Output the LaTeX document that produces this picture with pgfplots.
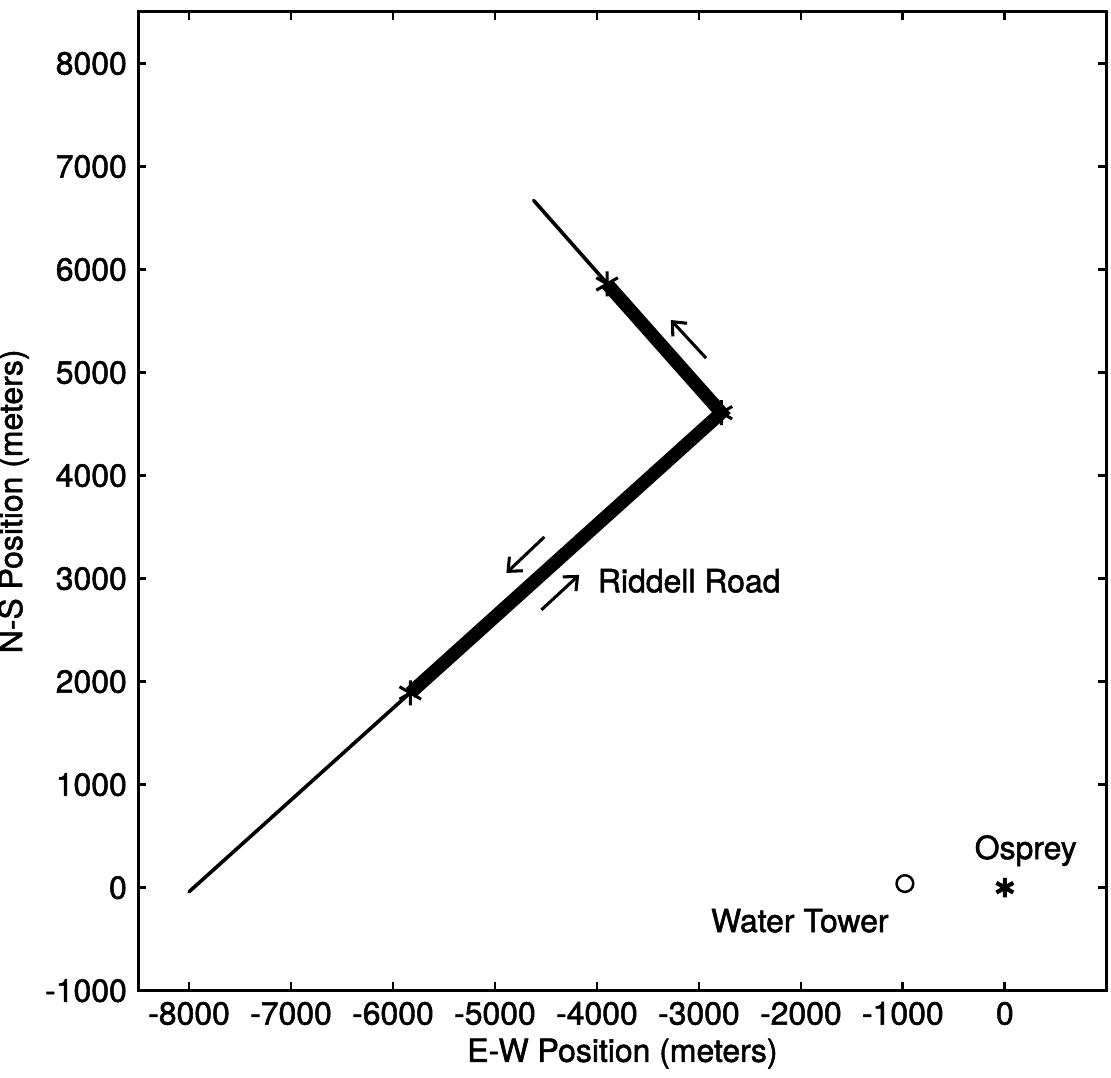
\documentclass[border=0pt]{standalone}
\usepackage{pgfplots}
\pgfplotsset{compat=1.18}
\usetikzlibrary{arrows.meta}
\usepackage{fontspec}
\setmainfont{TeX Gyre Heros}[FakeBold=1.6]
\begin{document}
\fontsize{11.5}{13.5}\selectfont
\begin{tikzpicture}
\path[use as bounding box] (-49.7pt,-31.3pt) rectangle (350.3pt,356.7pt);
\begin{axis}[
  at={(0,0)}, anchor=south west,
  scale only axis, width=348.8pt, height=352.4pt,
  xmin=-8500, xmax=1000, ymin=-1000, ymax=8500,
  xtick={-8000,-7000,...,0}, ytick={-1000,0,...,8000},
  scaled ticks=false,
  /pgf/number format/.cd, 1000 sep={}, assume math mode=true,
  /pgfplots/.cd,
  tick align=inside, major tick length=3pt,
  axis line style={line width=1.1pt}, tick style={line width=1pt, black},
  xlabel={E-W Position (meters)}, ylabel={N-S Position (meters)},
  xlabel style={yshift=3pt}, ylabel style={yshift=-2pt},
  clip=false,
]
\addplot[black, line width=1.3pt, line cap=round] coordinates {(-8000,-40) (-2780,4610) (-4620,6670)};
\addplot[black, line width=4.8pt, mark=asterisk, mark size=4.5pt, mark options={line width=1.1pt}] coordinates {(-5830,1890) (-2780,4610) (-3900,5860)};
\addplot[black, line width=1.1pt, -{Straight Barb[length=4pt,width=7pt]}] coordinates {(-2930,5140) (-3275,5510)};
\addplot[black, line width=1.1pt, -{Straight Barb[length=4pt,width=7pt]}] coordinates {(-4516,3404) (-4888,3055)};
\addplot[black, line width=1.1pt, -{Straight Barb[length=4pt,width=7pt]}] coordinates {(-4545,2696) (-4174,3036)};
\addplot[only marks, mark=o, mark size=3pt, black, line width=0.9pt] coordinates {(-980,40)};
\addplot[only marks, mark=asterisk, mark size=3.5pt, black, line width=1.5pt] coordinates {(0,0)};
\node[anchor=west] at (axis cs:-4100,2978) {Riddell Road};
\node at (axis cs:205,360) {Osprey};
\node[anchor=east] at (axis cs:-1030,-320) {Water Tower};
\end{axis}
\end{tikzpicture}
\end{document}
